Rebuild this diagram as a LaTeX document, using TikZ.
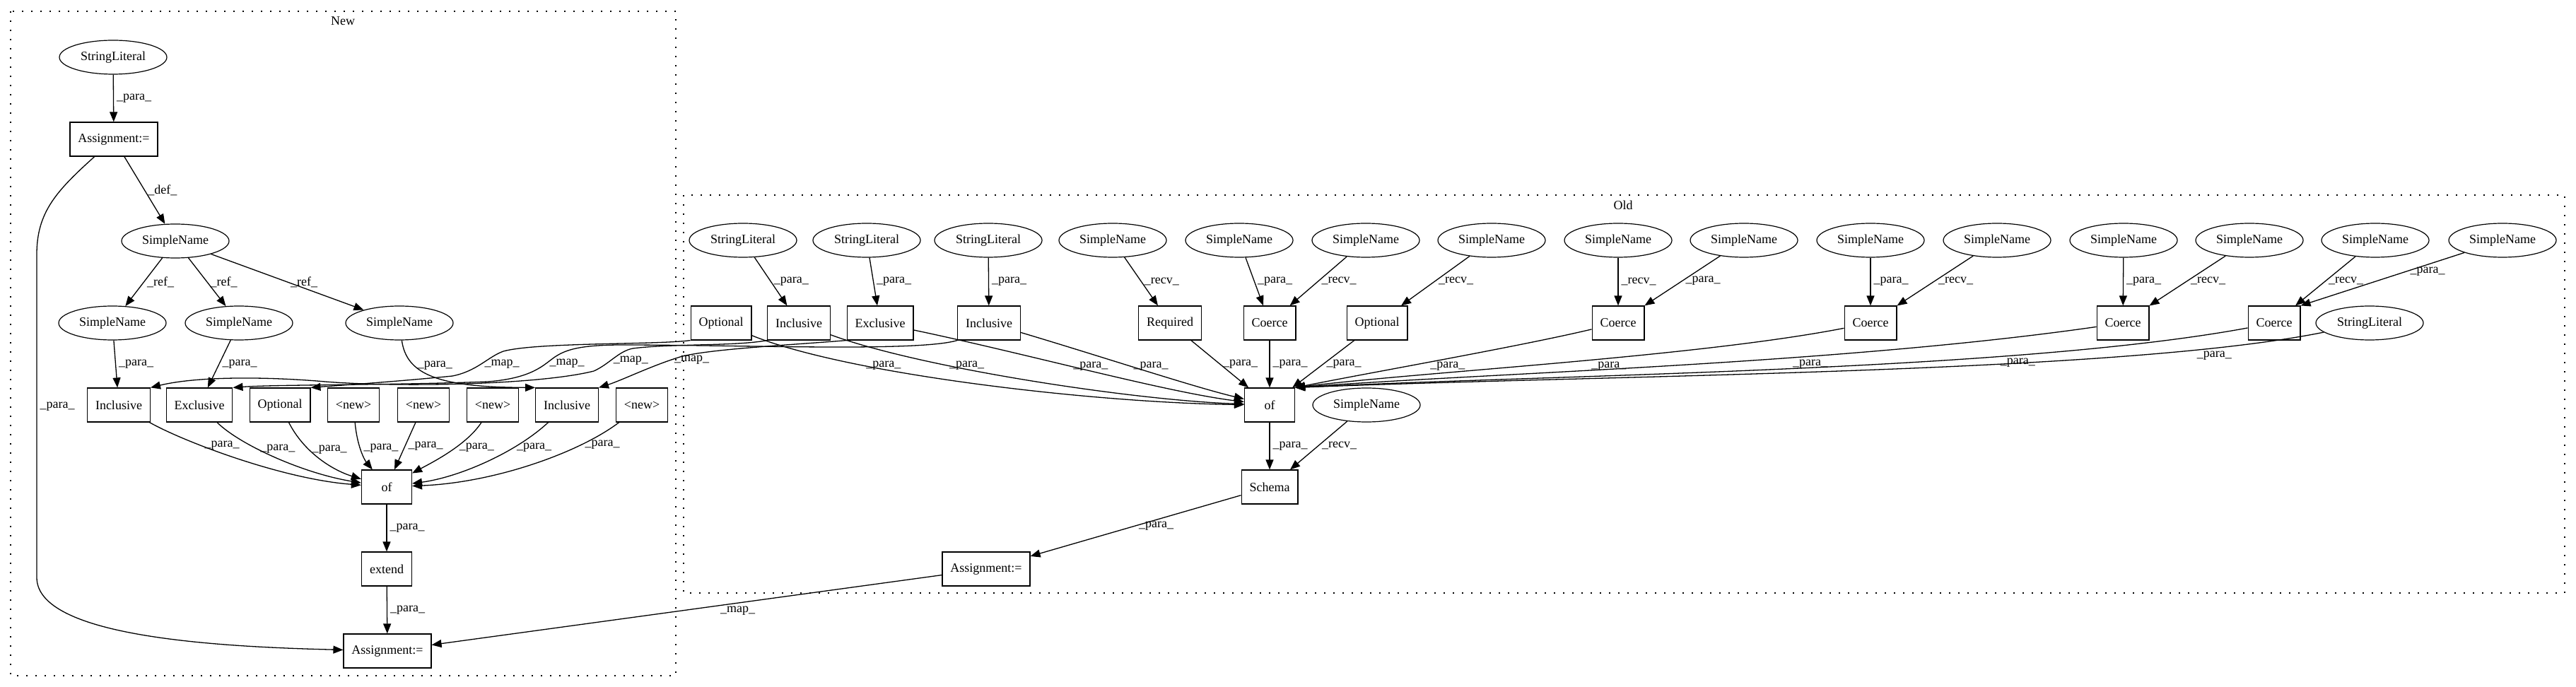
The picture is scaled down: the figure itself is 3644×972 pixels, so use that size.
\documentclass[tikz,border=0pt]{standalone}
\usepackage{fontspec}
\setmainfont{Liberation Serif}
\usepackage{tikz}
\usetikzlibrary{arrows.meta,shapes.geometric}
\tikzset{
  box/.style={draw,line width=0.6pt,rectangle,minimum width=35.5pt,minimum height=24pt,inner xsep=5.7pt,inner ysep=0pt},
  oval/.style={draw,line width=0.6pt,ellipse,minimum width=76pt,minimum height=24pt,inner sep=0pt},
  conn/.style={line width=0.65pt,-{Triangle[length=7pt,width=5.5pt]}},
  lbl/.style={anchor=west,inner sep=2pt},
  cluster/.style={line width=0.8pt,dash pattern=on 1pt off 5.5pt}
}

\begin{document}
\begin{tikzpicture}[x=0.5pt,y=0.5pt,font=\fontsize{9}{11}\selectfont]
\useasboundingbox (0,0) rectangle (3644,-972);
\draw[cluster] (15,-16) rectangle (956,-956);
\draw[cluster] (967,-276) rectangle (3628,-839);
\node (nTitle) at (485,-30) {New};
\node (oTitle) at (2296,-290) {Old};

\node[oval] (nSL) at (160,-81) {StringLiteral};
\node[box] (nAsgA) at (161,-197) {Assignment:=};
\node[oval] (nName) at (248,-341) {SimpleName};
\node[oval] (nNameA) at (159,-457) {SimpleName};
\node[oval] (nNameB) at (338,-457) {SimpleName};
\node[oval] (nNameC) at (565,-457) {SimpleName};
\node[box] (nIncA) at (168,-573) {Inclusive};
\node[box] (nExc) at (282,-573) {Exclusive};
\node[box] (nOpt) at (396,-573) {Optional};
\node[box] (nNewA) at (500,-573) {<new>};
\node[box] (nNewB) at (599,-573) {<new>};
\node[box] (nNewC) at (697,-573) {<new>};
\node[box] (nIncB) at (802,-573) {Inclusive};
\node[box] (nNewD) at (908,-573) {<new>};
\node[box] (nOf) at (547,-689) {of};
\node[box] (nExt) at (547,-805) {extend};
\node[box] (nAsgB) at (548,-921) {Assignment:=};

\node[oval] (oLitA) at (1051,-340) {StringLiteral};
\node[oval] (oLitB) at (1226,-340) {StringLiteral};
\node[oval] (oLitC) at (1398,-340) {StringLiteral};
\node[oval] (oNameA) at (1574,-340) {SimpleName};
\node[oval] (oNameB) at (1753,-340) {SimpleName};
\node[oval] (oNameC) at (1932,-340) {SimpleName};
\node[oval] (oNameD) at (2110,-340) {SimpleName};
\node[oval] (oNameE) at (2289,-340) {SimpleName};
\node[oval] (oNameF) at (2467,-340) {SimpleName};
\node[oval] (oNameG) at (2646,-340) {SimpleName};
\node[oval] (oNameH) at (2825,-340) {SimpleName};
\node[oval] (oNameI) at (3004,-340) {SimpleName};
\node[oval] (oNameJ) at (3182,-340) {SimpleName};
\node[oval] (oNameK) at (3360,-340) {SimpleName};
\node[oval] (oNameL) at (3540,-340) {SimpleName};
\node[box] (oOptA) at (1020,-457) {Optional};
\node[box] (oIncA) at (1130,-457) {Inclusive};
\node[box] (oExc) at (1245,-457) {Exclusive};
\node[box] (oIncB) at (1399,-457) {Inclusive};
\node[box] (oReq) at (1655,-457) {Required};
\node[box] (oCoA) at (1796,-457) {Coerce};
\node[box] (oOptB) at (1948,-457) {Optional};
\node[box] (oCoB) at (2289,-457) {Coerce};
\node[box] (oCoC) at (2646,-457) {Coerce};
\node[box] (oCoD) at (3003,-457) {Coerce};
\node[box] (oCoE) at (3217,-457) {Coerce};
\node[oval] (oLitD) at (3352,-457) {StringLiteral};
\node[box] (oOf) at (1796,-573) {of};
\node[oval] (oNameM) at (1933,-573) {SimpleName};
\node[box] (oSch) at (1796,-689) {Schema};
\node[box] (oAsg) at (1395,-805) {Assignment:=};

\draw[conn] (nSL) -- node[lbl] {\_para\_} (nAsgA);
\draw[conn] (nAsgA) -- node[lbl] {\_def\_} (nName);
\draw[conn] (nName) -- node[lbl] {\_ref\_} (nNameA);
\draw[conn] (nName) -- node[lbl] {\_ref\_} (nNameB);
\draw[conn] (nName) -- node[lbl] {\_ref\_} (nNameC);
\draw[conn] (nNameA) -- node[lbl] {\_para\_} (nIncA);
\draw[conn] (nNameB) -- node[lbl] {\_para\_} (nExc);
\draw[conn] (nNameC) .. controls (575,-530) and (620,-548) .. (nIncB.north west) node[lbl,pos=.3] {\_para\_};
\draw[conn] (nAsgA) .. controls (80,-270) and (52,-300) .. (52,-360) -- (52,-817) node[lbl,pos=.47] {\_para\_} .. controls (52,-900) and (300,-915) .. (nAsgB);
\draw[conn] (nIncA) .. controls (260,-625) and (400,-678) .. (nOf) node[lbl,pos=.33] {\_para\_};
\draw[conn] (nExc) .. controls (340,-630) and (430,-670) .. (nOf) node[lbl,pos=.37] {\_para\_};
\draw[conn] (nOpt) .. controls (430,-640) and (470,-665) .. (nOf) node[lbl,pos=.35] {\_para\_};
\draw[conn] (nNewA) .. controls (505,-630) and (515,-650) .. (nOf) node[lbl,pos=.45] {\_para\_};
\draw[conn] (nNewB) -- node[lbl] {\_para\_} (nOf);
\draw[conn] (nNewC) .. controls (660,-630) and (610,-655) .. (nOf) node[lbl,pos=.4] {\_para\_};
\draw[conn] (nIncB) .. controls (730,-640) and (650,-675) .. (nOf) node[lbl,pos=.3] {\_para\_};
\draw[conn] (nNewD) .. controls (820,-640) and (700,-683) .. (nOf) node[lbl,pos=.25] {\_para\_};
\draw[conn] (nOf) -- node[lbl] {\_para\_} (nExt);
\draw[conn] (nExt) -- node[lbl] {\_para\_} (nAsgB);

\draw[conn] (oLitA) -- node[lbl] {\_para\_} (oIncA);
\draw[conn] (oLitB) -- node[lbl] {\_para\_} (oExc);
\draw[conn] (oLitC) -- node[lbl] {\_para\_} (oIncB);
\draw[conn] (oNameA) -- node[lbl] {\_recv\_} (oReq);
\draw[conn] (oNameB) -- node[lbl] {\_para\_} (oCoA);
\draw[conn] (oNameC) -- node[lbl] {\_recv\_} (oCoA);
\draw[conn] (oNameD) -- node[lbl] {\_recv\_} (oOptB);
\draw[conn] (oNameE) -- node[lbl] {\_recv\_} (oCoB);
\draw[conn] (oNameF) -- node[lbl] {\_para\_} (oCoB);
\draw[conn] (oNameG) -- node[lbl] {\_para\_} (oCoC);
\draw[conn] (oNameH) -- node[lbl] {\_recv\_} (oCoC);
\draw[conn] (oNameI) -- node[lbl] {\_para\_} (oCoD);
\draw[conn] (oNameJ) -- node[lbl] {\_recv\_} (oCoD);
\draw[conn] (oNameK) -- node[lbl] {\_recv\_} (oCoE);
\draw[conn] (oNameL) -- node[lbl,pos=.35] {\_para\_} (oCoE.north east);
\draw[conn] (oOptA) .. controls (1200,-530) and (1550,-570) .. (oOf) node[lbl,pos=.28] {\_para\_};
\draw[conn] (oIncA) .. controls (1300,-520) and (1600,-566) .. (oOf) node[lbl,pos=.32] {\_para\_};
\draw[conn] (oExc) .. controls (1450,-500) and (1650,-555) .. (oOf) node[lbl,pos=.44] {\_para\_};
\draw[conn] (oIncB) .. controls (1560,-505) and (1690,-548) .. (oOf) node[lbl,pos=.44] {\_para\_};
\draw[conn] (oReq) -- node[lbl] {\_para\_} (oOf);
\draw[conn] (oCoA) -- node[lbl] {\_para\_} (oOf);
\draw[conn] (oOptB) -- node[lbl] {\_para\_} (oOf);
\draw[conn] (oCoB) .. controls (2150,-490) and (1950,-525) .. (oOf.north east) node[lbl,anchor=north,pos=.5] {\_para\_};
\draw[conn] (oCoC) .. controls (2400,-505) and (2000,-527) .. (oOf.north east) node[lbl,anchor=north,pos=.42] {\_para\_};
\draw[conn] (oCoD) .. controls (2600,-515) and (2100,-528) .. (oOf.north east) node[lbl,anchor=north,pos=.34] {\_para\_};
\draw[conn] (oCoE) .. controls (2850,-525) and (2200,-530) .. (oOf.north east) node[lbl,anchor=north,pos=.27] {\_para\_};
\draw[conn] (oLitD) .. controls (3000,-528) and (2300,-530) .. (oOf.north east) node[lbl,anchor=north,pos=.15] {\_para\_};
\draw[conn] (oOf) -- node[lbl] {\_para\_} (oSch);
\draw[conn] (oNameM) -- node[lbl] {\_recv\_} (oSch);
\draw[conn] (oSch) -- node[lbl] {\_para\_} (oAsg);
\draw[conn] (oAsg) -- node[lbl,anchor=north,pos=.4] {\_map\_} (nAsgB);

\draw[conn] (oOptA.south west) .. controls (930,-488) and (760,-484) .. (712,-497) .. controls (690,-505) and (675,-525) .. (640,-532) node[lbl,pos=.5] {\_map\_} .. controls (560,-540) and (470,-546) .. (nOpt.north east);
\draw[conn] (oIncB.south west) .. controls (1300,-498) and (1050,-488) .. (880,-488) .. controls (820,-488) and (800,-495) .. (785,-505) .. controls (770,-515) and (755,-535) .. (690,-540) node[lbl,pos=.25] {\_map\_} .. controls (560,-545) and (390,-544) .. (nExc.north east);
\draw[conn] (oIncA.south west) .. controls (1040,-490) and (950,-486) .. (895,-493) .. controls (875,-497) and (862,-515) .. (840,-525) node[lbl,pos=.6] {\_map\_} .. controls (760,-545) and (560,-548) .. (460,-540) .. controls (380,-533) and (280,-532) .. (nIncA.north east);
\draw[conn] (oExc.south west) .. controls (1120,-488) and (1000,-494) .. (962,-505) .. controls (920,-518) and (880,-538) .. (nIncB.north east) node[lbl,pos=.1] {\_map\_};
\end{tikzpicture}
\end{document}
